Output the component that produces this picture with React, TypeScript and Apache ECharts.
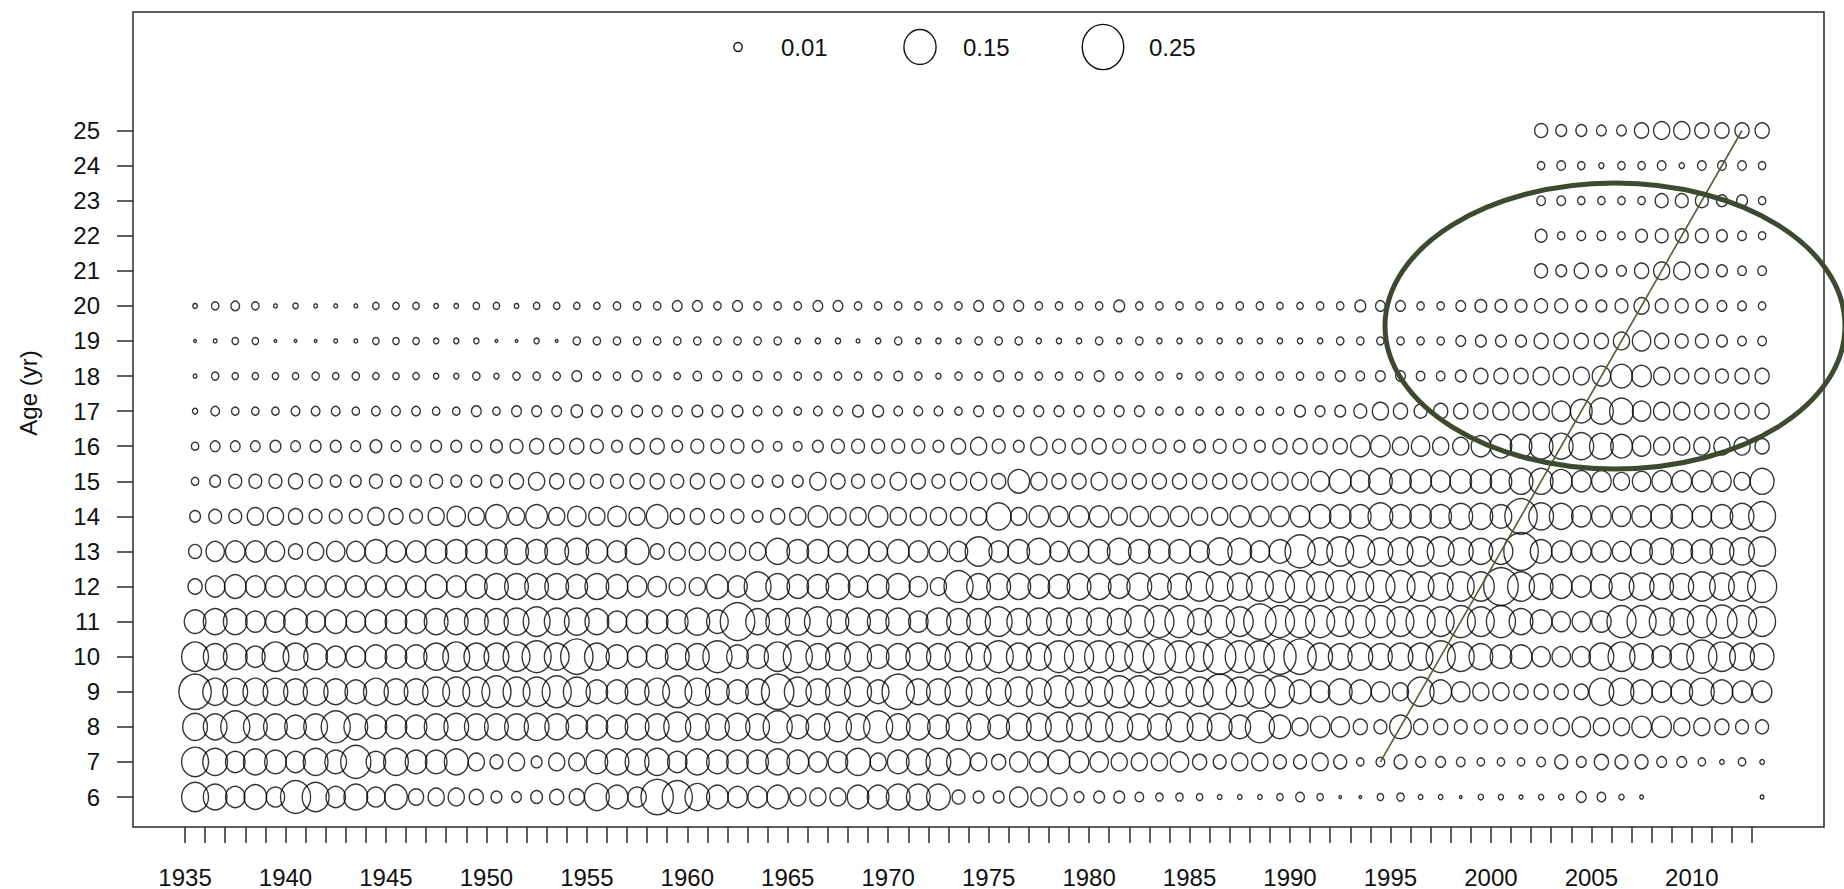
import React, { useEffect, useRef } from "react";
import * as echarts from "echarts";

// ---------- categories ----------
const FIRST_YEAR = 1935;
const LAST_YEAR = 2013;
const years: number[] = Array.from({ length: LAST_YEAR - FIRST_YEAR + 1 }, (_, i) => FIRST_YEAR + i);
const recentFirstYear = 2002; // ages 21-25 only sampled from 2002
const recentYears: number[] = years.filter((y) => y >= recentFirstYear);
const xLabelYears: number[] = [1935, 1940, 1945, 1950, 1955, 1960, 1965, 1970, 1975, 1980, 1985, 1990, 1995, 2000, 2005, 2010];
const ageTicks: number[] = [6, 7, 8, 9, 10, 11, 12, 13, 14, 15, 16, 17, 18, 19, 20, 21, 22, 23, 24, 25];

// ---------- proportion at age, 1935..2013 ----------
const propAge6 = [
  0.105, 0.082, 0.055, 0.074, 0.049, 0.132, 0.105, 0.055, 0.082, 0.049, 0.074, 0.033,
  0.038, 0.038, 0.029, 0.017, 0.014, 0.020, 0.029, 0.033, 0.089, 0.068, 0.049, 0.152, 0.132,
  0.089, 0.068, 0.055, 0.055, 0.068, 0.038, 0.038, 0.038, 0.068, 0.068, 0.082, 0.082, 0.082,
  0.024, 0.017, 0.017, 0.049, 0.038, 0.038, 0.014, 0.017, 0.017, 0.011, 0.008, 0.008, 0.006,
  0.003, 0.003, 0.003, 0.006, 0.011, 0.006, 0.001, 0.001, 0.006, 0.008, 0.003, 0.003, 0.001,
  0.004, 0.004, 0.002, 0.004, 0.004, 0.014, 0.011, 0.004, 0.002, null, null, null, null, null, 0.002,
];
const propAge7 = [
  0.105, 0.089, 0.055, 0.082, 0.068, 0.055, 0.089, 0.068, 0.132, 0.055, 0.089, 0.068,
  0.068, 0.082, 0.038, 0.024, 0.038, 0.017, 0.038, 0.038, 0.068, 0.082, 0.082, 0.089, 0.055,
  0.082, 0.068, 0.068, 0.068, 0.082, 0.068, 0.049, 0.055, 0.089, 0.038, 0.068, 0.082, 0.089,
  0.082, 0.038, 0.029, 0.049, 0.049, 0.068, 0.055, 0.049, 0.038, 0.038, 0.038, 0.049, 0.029,
  0.024, 0.038, 0.038, 0.024, 0.024, 0.038, 0.024, 0.008, 0.011, 0.024, 0.014, 0.014, 0.011,
  0.008, 0.008, 0.008, 0.011, 0.024, 0.014, 0.029, 0.024, 0.024, 0.014, 0.014, 0.008, 0.003, 0.008, 0.003,
];
const propAge8 = [
  0.089, 0.082, 0.123, 0.082, 0.082, 0.068, 0.082, 0.123, 0.082, 0.068, 0.068, 0.068,
  0.082, 0.089, 0.082, 0.082, 0.082, 0.089, 0.082, 0.068, 0.068, 0.068, 0.082, 0.082, 0.105,
  0.082, 0.082, 0.089, 0.082, 0.123, 0.068, 0.082, 0.105, 0.082, 0.123, 0.082, 0.082, 0.068,
  0.089, 0.082, 0.068, 0.089, 0.089, 0.105, 0.089, 0.105, 0.105, 0.082, 0.082, 0.105, 0.089,
  0.089, 0.068, 0.123, 0.068, 0.038, 0.055, 0.049, 0.029, 0.024, 0.068, 0.029, 0.029, 0.024,
  0.024, 0.024, 0.024, 0.024, 0.038, 0.049, 0.038, 0.038, 0.055, 0.055, 0.038, 0.038, 0.029, 0.024, 0.024,
];
const propAge9 = [
  0.152, 0.089, 0.089, 0.089, 0.089, 0.082, 0.089, 0.082, 0.068, 0.089, 0.082, 0.082,
  0.105, 0.105, 0.105, 0.123, 0.105, 0.105, 0.123, 0.105, 0.068, 0.068, 0.082, 0.089, 0.123,
  0.089, 0.082, 0.068, 0.082, 0.152, 0.105, 0.082, 0.089, 0.105, 0.068, 0.152, 0.082, 0.082,
  0.105, 0.089, 0.089, 0.105, 0.089, 0.123, 0.105, 0.105, 0.123, 0.123, 0.105, 0.105, 0.105,
  0.152, 0.105, 0.132, 0.123, 0.068, 0.055, 0.082, 0.068, 0.049, 0.038, 0.105, 0.068, 0.049,
  0.038, 0.038, 0.029, 0.029, 0.029, 0.029, 0.089, 0.089, 0.068, 0.055, 0.068, 0.089, 0.068, 0.055, 0.055,
];
const propAge10 = [
  0.105, 0.082, 0.082, 0.055, 0.105, 0.089, 0.082, 0.055, 0.055, 0.068, 0.068, 0.068,
  0.089, 0.105, 0.089, 0.089, 0.105, 0.123, 0.089, 0.152, 0.089, 0.068, 0.055, 0.068, 0.082,
  0.082, 0.123, 0.068, 0.068, 0.105, 0.123, 0.082, 0.089, 0.105, 0.068, 0.082, 0.089, 0.082,
  0.105, 0.089, 0.123, 0.089, 0.089, 0.123, 0.123, 0.123, 0.105, 0.123, 0.152, 0.123, 0.105,
  0.152, 0.123, 0.123, 0.152, 0.152, 0.089, 0.082, 0.089, 0.082, 0.089, 0.089, 0.123, 0.105,
  0.082, 0.068, 0.068, 0.049, 0.049, 0.049, 0.089, 0.105, 0.082, 0.055, 0.082, 0.132, 0.105, 0.089, 0.082,
];
const propAge11 = [
  0.068, 0.082, 0.082, 0.055, 0.055, 0.082, 0.055, 0.068, 0.055, 0.068, 0.068, 0.068,
  0.082, 0.082, 0.082, 0.082, 0.089, 0.105, 0.089, 0.089, 0.082, 0.055, 0.068, 0.068, 0.068,
  0.089, 0.068, 0.173, 0.082, 0.082, 0.089, 0.105, 0.068, 0.089, 0.068, 0.089, 0.055, 0.089,
  0.082, 0.082, 0.105, 0.082, 0.089, 0.089, 0.089, 0.089, 0.082, 0.123, 0.123, 0.123, 0.082,
  0.123, 0.105, 0.152, 0.123, 0.123, 0.123, 0.105, 0.123, 0.123, 0.105, 0.123, 0.105, 0.123,
  0.105, 0.123, 0.082, 0.068, 0.049, 0.049, 0.055, 0.123, 0.123, 0.089, 0.082, 0.123, 0.132, 0.123, 0.105,
];
const propAge12 = [
  0.029, 0.055, 0.068, 0.055, 0.055, 0.055, 0.055, 0.055, 0.055, 0.055, 0.055, 0.055,
  0.068, 0.055, 0.068, 0.082, 0.082, 0.082, 0.082, 0.068, 0.082, 0.068, 0.055, 0.049, 0.038,
  0.038, 0.068, 0.055, 0.105, 0.082, 0.068, 0.068, 0.082, 0.055, 0.068, 0.082, 0.049, 0.038,
  0.123, 0.082, 0.082, 0.082, 0.068, 0.068, 0.082, 0.082, 0.068, 0.089, 0.082, 0.082, 0.105,
  0.105, 0.089, 0.105, 0.123, 0.123, 0.105, 0.123, 0.105, 0.123, 0.123, 0.105, 0.089, 0.105,
  0.105, 0.173, 0.105, 0.082, 0.068, 0.055, 0.068, 0.089, 0.089, 0.082, 0.082, 0.105, 0.089, 0.105, 0.123,
];
const propAge13 = [
  0.024, 0.049, 0.055, 0.055, 0.049, 0.029, 0.038, 0.049, 0.049, 0.068, 0.055, 0.055,
  0.068, 0.068, 0.068, 0.068, 0.082, 0.068, 0.082, 0.082, 0.068, 0.055, 0.082, 0.029, 0.038,
  0.038, 0.038, 0.038, 0.038, 0.082, 0.068, 0.068, 0.055, 0.068, 0.049, 0.068, 0.055, 0.049,
  0.049, 0.105, 0.055, 0.068, 0.082, 0.049, 0.055, 0.068, 0.082, 0.068, 0.068, 0.068, 0.055,
  0.089, 0.082, 0.055, 0.068, 0.132, 0.089, 0.105, 0.123, 0.089, 0.089, 0.105, 0.105, 0.089,
  0.082, 0.082, 0.173, 0.068, 0.055, 0.055, 0.055, 0.049, 0.068, 0.082, 0.068, 0.068, 0.082, 0.089, 0.105,
];
const propAge14 = [
  0.017, 0.024, 0.024, 0.038, 0.038, 0.029, 0.024, 0.024, 0.024, 0.038, 0.029, 0.024,
  0.038, 0.049, 0.038, 0.068, 0.038, 0.068, 0.038, 0.049, 0.038, 0.049, 0.038, 0.068, 0.029,
  0.029, 0.024, 0.024, 0.017, 0.029, 0.038, 0.055, 0.038, 0.038, 0.055, 0.038, 0.038, 0.038,
  0.038, 0.038, 0.089, 0.038, 0.055, 0.049, 0.055, 0.055, 0.038, 0.049, 0.049, 0.049, 0.038,
  0.038, 0.055, 0.049, 0.049, 0.055, 0.068, 0.068, 0.068, 0.089, 0.068, 0.068, 0.068, 0.082,
  0.082, 0.068, 0.152, 0.089, 0.082, 0.055, 0.055, 0.049, 0.055, 0.068, 0.068, 0.055, 0.068, 0.082, 0.105,
];
const propAge15 = [
  0.008, 0.017, 0.024, 0.024, 0.024, 0.029, 0.024, 0.017, 0.017, 0.024, 0.017, 0.017,
  0.024, 0.017, 0.017, 0.020, 0.029, 0.038, 0.029, 0.029, 0.024, 0.024, 0.029, 0.029, 0.024,
  0.029, 0.029, 0.024, 0.017, 0.017, 0.017, 0.038, 0.029, 0.024, 0.024, 0.038, 0.029, 0.024,
  0.038, 0.038, 0.029, 0.068, 0.038, 0.029, 0.029, 0.038, 0.029, 0.029, 0.029, 0.029, 0.029,
  0.029, 0.029, 0.038, 0.038, 0.038, 0.049, 0.068, 0.055, 0.082, 0.068, 0.068, 0.055, 0.068,
  0.068, 0.068, 0.082, 0.082, 0.068, 0.055, 0.055, 0.038, 0.049, 0.055, 0.055, 0.055, 0.049, 0.038, 0.082,
];
const propAge16 = [
  0.008, 0.014, 0.014, 0.014, 0.017, 0.014, 0.017, 0.017, 0.014, 0.020, 0.014, 0.014,
  0.017, 0.017, 0.017, 0.020, 0.024, 0.029, 0.029, 0.029, 0.024, 0.017, 0.029, 0.029, 0.017,
  0.024, 0.024, 0.024, 0.017, 0.011, 0.011, 0.017, 0.024, 0.024, 0.024, 0.024, 0.024, 0.017,
  0.029, 0.038, 0.024, 0.017, 0.038, 0.024, 0.029, 0.029, 0.024, 0.024, 0.024, 0.017, 0.020,
  0.024, 0.024, 0.017, 0.029, 0.029, 0.029, 0.029, 0.055, 0.055, 0.038, 0.049, 0.038, 0.038,
  0.055, 0.068, 0.068, 0.082, 0.082, 0.089, 0.082, 0.068, 0.049, 0.038, 0.038, 0.038, 0.038, 0.038, 0.029,
];
const propAge17 = [
  0.004, 0.011, 0.008, 0.008, 0.008, 0.011, 0.011, 0.011, 0.008, 0.011, 0.011, 0.011,
  0.008, 0.008, 0.014, 0.008, 0.014, 0.014, 0.014, 0.019, 0.017, 0.014, 0.017, 0.014, 0.014,
  0.017, 0.017, 0.017, 0.011, 0.011, 0.008, 0.011, 0.011, 0.017, 0.017, 0.011, 0.011, 0.011,
  0.008, 0.014, 0.014, 0.014, 0.014, 0.014, 0.014, 0.014, 0.014, 0.014, 0.008, 0.008, 0.008,
  0.008, 0.008, 0.008, 0.008, 0.017, 0.014, 0.017, 0.024, 0.038, 0.029, 0.024, 0.029, 0.029,
  0.029, 0.038, 0.038, 0.038, 0.049, 0.068, 0.082, 0.082, 0.049, 0.038, 0.038, 0.029, 0.029, 0.029, 0.029,
];
const propAge18 = [
  0.002, 0.008, 0.006, 0.006, 0.006, 0.006, 0.008, 0.006, 0.008, 0.006, 0.006, 0.006,
  0.004, 0.004, 0.008, 0.004, 0.008, 0.008, 0.008, 0.014, 0.008, 0.008, 0.014, 0.008, 0.006,
  0.011, 0.011, 0.011, 0.011, 0.008, 0.008, 0.008, 0.008, 0.008, 0.008, 0.011, 0.008, 0.004,
  0.008, 0.008, 0.014, 0.008, 0.008, 0.008, 0.008, 0.014, 0.008, 0.008, 0.008, 0.004, 0.008,
  0.008, 0.008, 0.008, 0.008, 0.008, 0.008, 0.014, 0.011, 0.014, 0.014, 0.011, 0.011, 0.017,
  0.029, 0.029, 0.029, 0.038, 0.038, 0.038, 0.049, 0.068, 0.055, 0.038, 0.029, 0.029, 0.024, 0.029, 0.029,
];
const propAge19 = [
  0.001, 0.002, 0.006, 0.006, 0.001, 0.001, 0.001, 0.002, 0.002, 0.006, 0.006, 0.006,
  0.004, 0.004, 0.004, 0.001, 0.001, 0.004, 0.001, 0.008, 0.008, 0.008, 0.008, 0.008, 0.008,
  0.008, 0.008, 0.008, 0.008, 0.008, 0.004, 0.004, 0.004, 0.002, 0.004, 0.008, 0.004, 0.004,
  0.004, 0.008, 0.008, 0.008, 0.004, 0.004, 0.004, 0.008, 0.004, 0.008, 0.004, 0.004, 0.004,
  0.004, 0.004, 0.004, 0.004, 0.004, 0.004, 0.008, 0.008, 0.008, 0.008, 0.008, 0.008, 0.014,
  0.017, 0.017, 0.017, 0.029, 0.029, 0.029, 0.029, 0.038, 0.049, 0.029, 0.024, 0.024, 0.017, 0.011, 0.011,
];
const propAge20 = [
  0.003, 0.008, 0.011, 0.008, 0.002, 0.004, 0.002, 0.002, 0.002, 0.006, 0.006, 0.006,
  0.003, 0.003, 0.006, 0.006, 0.003, 0.006, 0.006, 0.006, 0.006, 0.008, 0.008, 0.008, 0.014,
  0.014, 0.008, 0.014, 0.008, 0.008, 0.008, 0.014, 0.014, 0.008, 0.008, 0.008, 0.008, 0.008,
  0.008, 0.014, 0.014, 0.014, 0.008, 0.008, 0.008, 0.008, 0.017, 0.008, 0.008, 0.008, 0.008,
  0.006, 0.008, 0.008, 0.006, 0.006, 0.008, 0.008, 0.017, 0.014, 0.014, 0.008, 0.008, 0.014,
  0.020, 0.020, 0.020, 0.024, 0.024, 0.017, 0.017, 0.024, 0.033, 0.024, 0.024, 0.020, 0.014, 0.011, 0.008,
];
// ---------- proportion at age, 2002..2013 ----------
const propAge21 = [0.024, 0.017, 0.029, 0.017, 0.014, 0.029, 0.038, 0.038, 0.024, 0.017, 0.011, 0.011];
const propAge22 = [0.020, 0.008, 0.011, 0.011, 0.008, 0.020, 0.024, 0.024, 0.024, 0.017, 0.011, 0.008];
const propAge23 = [0.011, 0.011, 0.008, 0.008, 0.008, 0.008, 0.024, 0.024, 0.024, 0.017, 0.017, 0.008];
const propAge24 = [0.008, 0.011, 0.008, 0.004, 0.008, 0.008, 0.011, 0.004, 0.011, 0.011, 0.011, 0.008];
const propAge25 = [0.024, 0.017, 0.017, 0.014, 0.014, 0.029, 0.038, 0.038, 0.029, 0.029, 0.029, 0.029];

// legend reference values
const legendValues = [0.01, 0.15, 0.25];
// cohort followed by the line (year, age)
const cohortStart = { year: 1994, age: 7 };
const cohortEnd = { year: 2012, age: 25 };

// ---------- build ----------
const fullRows: [number, (number | null)[]][] = [
  [6, propAge6], [7, propAge7], [8, propAge8], [9, propAge9], [10, propAge10],
  [11, propAge11], [12, propAge12], [13, propAge13], [14, propAge14], [15, propAge15],
  [16, propAge16], [17, propAge17], [18, propAge18], [19, propAge19], [20, propAge20],
];
const recentRows: [number, number[]][] = [
  [21, propAge21], [22, propAge22], [23, propAge23], [24, propAge24], [25, propAge25],
];

const bubbleData: number[][] = [];
fullRows.forEach(([age, vals]) => {
  vals.forEach((v, i) => {
    if (v != null) bubbleData.push([years[i] + 0.5, age, v]);
  });
});
recentRows.forEach(([age, vals]) => {
  vals.forEach((v, i) => bubbleData.push([recentYears[i] + 0.5, age, v]));
});

const SIZE_K = 83;
const STRETCH = 1.09;
const diam = (v: number) => SIZE_K * Math.sqrt(v);
const FONT = "'Liberation Sans', Arial, Helvetica, sans-serif";
const FS = 24;
const TXT = "#111";
const AX = "#2a2a2a";

const legendX = [738, 920, 1103];
const legendTextX = [781, 963, 1149];
const legendY = 47;

const graphic: any[] = [];
legendValues.forEach((v, i) => {
  const d = diam(v);
  graphic.push({
    type: "ellipse",
    shape: { cx: legendX[i], cy: legendY, rx: d / 2, ry: (d * STRETCH) / 2 },
    style: { fill: "none", stroke: "#111", lineWidth: 1.4 },
    silent: true,
  });
  graphic.push({
    type: "text",
    x: legendTextX[i],
    y: legendY,
    style: { text: String(v), fontSize: FS, fontFamily: FONT, fill: TXT, align: "left", verticalAlign: "middle" },
    silent: true,
  });
});
graphic.push({
  type: "text",
  x: 28,
  y: 393,
  rotation: Math.PI / 2,
  style: { text: "Age (yr)", fontSize: FS, fontFamily: FONT, fill: TXT, align: "center", verticalAlign: "middle" },
  silent: true,
});
graphic.push({
  type: "ellipse",
  shape: { cx: 1615, cy: 326, rx: 230, ry: 143 },
  style: { fill: "none", stroke: "#3d4a2f", lineWidth: 5 },
  z: 100,
  silent: true,
});

const option: any = {
  animation: false,
  backgroundColor: "#ffffff",
  grid: { left: 133, right: 20, top: 12, bottom: 62, show: true, borderColor: AX, borderWidth: 1.5, containLabel: false },
  xAxis: {
    type: "value",
    min: 1932.41,
    max: 2016.58,
    axisLine: { show: false },
    splitLine: { show: false },
    axisTick: { show: true, customValues: years, length: 16, inside: false, lineStyle: { color: AX, width: 1.5 } },
    axisLabel: {
      customValues: xLabelYears,
      formatter: (v: number) => String(v),
      fontSize: FS,
      fontFamily: FONT,
      color: TXT,
      margin: 38,
    },
  },
  yAxis: {
    type: "value",
    min: 5.145,
    max: 28.378,
    axisLine: { show: false },
    splitLine: { show: false },
    axisTick: { show: true, customValues: ageTicks, length: 16, inside: false, lineStyle: { color: AX, width: 1.5 } },
    axisLabel: {
      customValues: ageTicks,
      formatter: (v: number) => String(v),
      fontSize: FS,
      fontFamily: FONT,
      color: TXT,
      margin: 33,
    },
  },
  series: [
    {
      type: "scatter",
      data: bubbleData,
      symbol: "circle",
      symbolSize: (val: number[]) => {
        const w = diam(val[2]);
        return [w, w * STRETCH];
      },
      itemStyle: { color: "rgba(255,255,255,0)", borderColor: "#000", borderWidth: 1.4 },
      emphasis: { disabled: true },
      silent: true,
      z: 2,
    },
    {
      type: "line",
      data: [
        [cohortStart.year + 0.5, cohortStart.age],
        [cohortEnd.year + 0.5, cohortEnd.age],
      ],
      symbol: "none",
      lineStyle: { color: "#4e5d3b", width: 1.6 },
      silent: true,
      z: 3,
    },
  ],
  graphic,
};

export default function App() {
  const ref = useRef<HTMLDivElement>(null);
  useEffect(() => {
    document.body.style.margin = "0";
    const chart = echarts.init(ref.current as HTMLDivElement, undefined, { renderer: "svg" });
    chart.setOption(option);
    return () => chart.dispose();
  }, []);
  return <div ref={ref} style={{ width: 1844, height: 889 }} />;
}
